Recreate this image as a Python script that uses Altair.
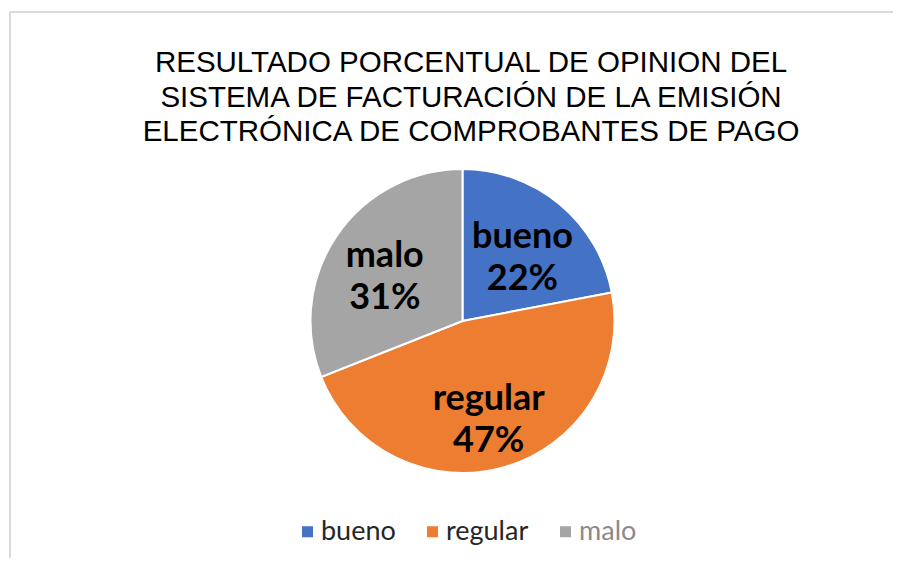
import altair as alt
import pandas as pd

categories = ["bueno", "regular", "malo"]
values = [22, 47, 31]
colors = ["#4472C4", "#ED7D31", "#A5A5A5"]
title_lines = [
    "RESULTADO PORCENTUAL DE OPINION DEL",
    "SISTEMA DE FACTURACIÓN DE LA EMISIÓN",
    "ELECTRÓNICA DE COMPROBANTES DE PAGO",
]

df = pd.DataFrame({
    "cat": categories,
    "value": values,
    "idx": list(range(len(categories))),
})
df["label"] = [f"{c}\n{v}%" for c, v in zip(categories, values)]

CX, CY = 454.5, 313

base = alt.Chart(df)

color_scale = alt.Scale(domain=categories, range=colors)

arcs = base.mark_arc(radius=152, stroke="white", strokeWidth=2, x=CX, y=CY).encode(
    theta=alt.Theta("value:Q", stack=True),
    order=alt.Order("idx:Q"),
    color=alt.Color(
        "cat:N",
        scale=color_scale,
        sort=categories,
        legend=alt.Legend(
            orient="none",
            legendX=286,
            legendY=510,
            direction="horizontal",
            title=None,
            symbolType="square",
            symbolSize=121,
            symbolStrokeWidth=0,
            labelFont="Lato",
            labelFontSize=27,
            labelColor=alt.ExprRef("datum.label == 'malo' ? '#8a8a8a' : '#262626'"),
            labelOffset=0,
            columnPadding=23,
        ),
    ),
)

labels = base.mark_text(
    radius=94, x=CX, y=CY, dy=-12, font="Lato", fontWeight="bold", fontSize=36,
    lineBreak="\n", lineHeight=42, color="#000000", align="center", baseline="middle",
).encode(
    theta=alt.Theta("value:Q", stack=True),
    order=alt.Order("idx:Q"),
    text="label:N",
)

title = alt.Chart(pd.DataFrame({"t": ["\n".join(title_lines)]})).mark_text(
    font="Liberation Sans", fontSize=29.5, lineBreak="\n", lineHeight=34.5,
    color="#000000", align="center", baseline="middle",
).encode(text="t:N", x=alt.value(463), y=alt.value(55))

border_top = alt.Chart(pd.DataFrame({"a": [0]})).mark_rule(color="#d9d9d9", strokeWidth=2).encode(
    x=alt.value(2), x2=alt.value(885), y=alt.value(4), y2=alt.value(4)
)
border_left = alt.Chart(pd.DataFrame({"a": [0]})).mark_rule(color="#d9d9d9", strokeWidth=2).encode(
    x=alt.value(2), x2=alt.value(2), y=alt.value(4), y2=alt.value(550)
)

chart = alt.layer(border_top, border_left, title, arcs, labels).properties(
    width=885, height=550, padding=0, autosize=alt.AutoSizeParams(type="none")
).configure_view(stroke=None)

chart.save("out.html", embed_options={"renderer": "svg", "actions": False})
